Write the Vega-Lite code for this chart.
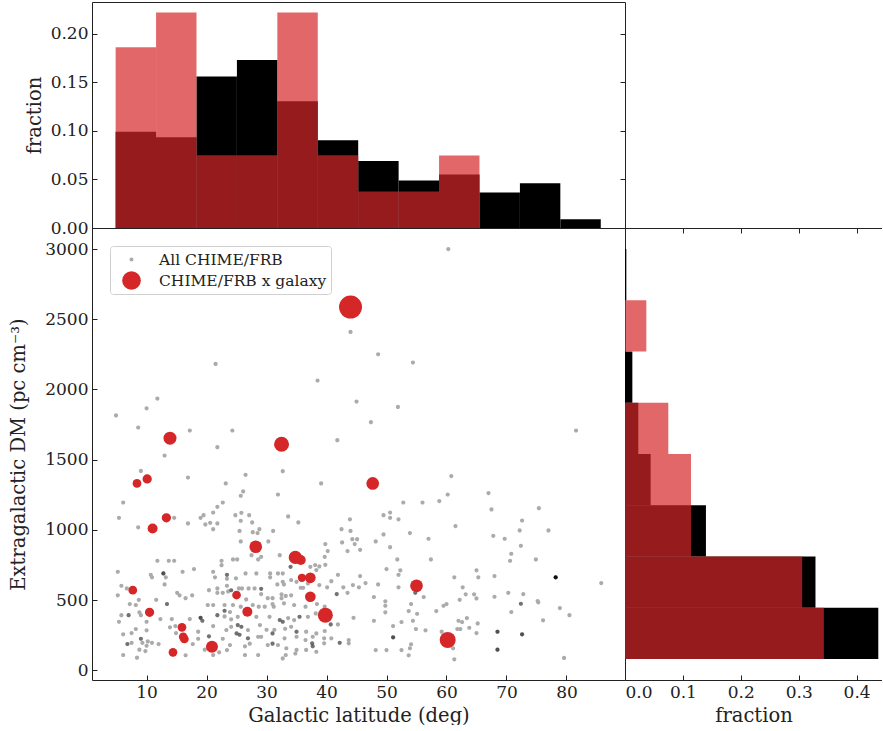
{
  "$schema": "https://vega.github.io/schema/vega-lite/v6.json",
  "background": "white",
  "padding": {"left": 8, "top": 1, "right": 0, "bottom": 0},
  "spacing": 0,
  "bounds": "flush",
  "resolve": {"legend": {"color": "independent", "shape": "independent"}},
  "config": {
    "font": "DejaVu Serif",
    "view": {"stroke": "#222", "strokeWidth": 1},
    "axis": {"labelFont": "DejaVu Serif", "titleFont": "DejaVu Serif", "labelFontSize": 17, "titleFontSize": 19.5, "labelColor": "#222", "titleColor": "#222", "titleFontWeight": "normal", "tickColor": "#222", "domainColor": "#222", "grid": false, "domain": false, "tickSize": -5, "labelPadding": 9},
    "axisX": {"titlePadding": 6},
    "legend": {"orient": "top-left", "offset": 18, "strokeColor": "#d0d0d0", "fillColor": "white", "padding": 4, "cornerRadius": 3, "labelFont": "DejaVu Serif", "labelFontSize": 15.5, "labelColor": "#222", "labelLimit": 400, "symbolSize": 350, "symbolStrokeWidth": 0, "labelOffset": 18, "rowPadding": 3, "symbolOffset": 8}
  },
  "datasets": {
    "lat_hist": [
      {"lo": 4.84, "hi": 11.58, "all": 0.099, "gal": 0.186},
      {"lo": 11.58, "hi": 18.32, "all": 0.0935, "gal": 0.222},
      {"lo": 18.32, "hi": 25.06, "all": 0.156, "gal": 0.075},
      {"lo": 25.06, "hi": 31.8, "all": 0.173, "gal": 0.075},
      {"lo": 31.8, "hi": 38.54, "all": 0.1306, "gal": 0.222},
      {"lo": 38.54, "hi": 45.28, "all": 0.0904, "gal": 0.075},
      {"lo": 45.28, "hi": 52.02, "all": 0.069, "gal": 0.0375},
      {"lo": 52.02, "hi": 58.76, "all": 0.0489, "gal": 0.0375},
      {"lo": 58.76, "hi": 65.5, "all": 0.055, "gal": 0.0746},
      {"lo": 65.5, "hi": 72.24, "all": 0.0365, "gal": 0},
      {"lo": 72.24, "hi": 78.98, "all": 0.046, "gal": 0},
      {"lo": 78.98, "hi": 85.72, "all": 0.009, "gal": 0}
    ],
    "dm_hist": [
      {"lo": 80, "hi": 445, "all": 0.4375, "gal": 0.3435},
      {"lo": 445, "hi": 810, "all": 0.329, "gal": 0.306},
      {"lo": 810, "hi": 1175, "all": 0.1398, "gal": 0.114},
      {"lo": 1175, "hi": 1540, "all": 0.0443, "gal": 0.114},
      {"lo": 1540, "hi": 1905, "all": 0.023, "gal": 0.0748},
      {"lo": 1905, "hi": 2270, "all": 0.0127, "gal": 0},
      {"lo": 2270, "hi": 2635, "all": 0, "gal": 0.0368},
      {"lo": 2635, "hi": 3000, "all": 0.0023, "gal": 0}
    ],
    "gal": [
      {"lat": 44.0, "dm": 2587, "w": 23}, {"lat": 13.9, "dm": 1653, "w": 13}, {"lat": 32.5, "dm": 1610, "w": 15},
      {"lat": 47.7, "dm": 1331, "w": 12.7}, {"lat": 8.4, "dm": 1331, "w": 8.7}, {"lat": 10.1, "dm": 1363, "w": 9.3},
      {"lat": 13.3, "dm": 1086, "w": 9.3}, {"lat": 11.0, "dm": 1010, "w": 10}, {"lat": 28.2, "dm": 880, "w": 12.7},
      {"lat": 34.8, "dm": 804, "w": 13.3}, {"lat": 35.7, "dm": 785, "w": 10}, {"lat": 35.9, "dm": 659, "w": 8.3},
      {"lat": 37.3, "dm": 659, "w": 10.7}, {"lat": 7.7, "dm": 571, "w": 8.7}, {"lat": 55.0, "dm": 602, "w": 12.7},
      {"lat": 37.3, "dm": 524, "w": 10.7}, {"lat": 25.0, "dm": 536, "w": 8.7}, {"lat": 10.5, "dm": 413, "w": 9.3},
      {"lat": 26.8, "dm": 417, "w": 10}, {"lat": 39.8, "dm": 393, "w": 15}, {"lat": 15.9, "dm": 306, "w": 8.7},
      {"lat": 16.1, "dm": 239, "w": 8.7}, {"lat": 16.3, "dm": 223, "w": 8.7}, {"lat": 14.4, "dm": 128, "w": 8.7},
      {"lat": 20.9, "dm": 168, "w": 12}, {"lat": 60.2, "dm": 216, "w": 16}
    ],
    "frb": [
      {"lat": 4.9, "dm": 1815}, {"lat": 8.6, "dm": 1729}, {"lat": 10.0, "dm": 1866}, {"lat": 11.8, "dm": 1935}, {"lat": 17.2, "dm": 1708},
      {"lat": 13.0, "dm": 1530}, {"lat": 21.5, "dm": 2182}, {"lat": 21.8, "dm": 1589}, {"lat": 24.3, "dm": 1708}, {"lat": 38.5, "dm": 2064},
      {"lat": 41.8, "dm": 1639}, {"lat": 44.0, "dm": 2410}, {"lat": 45.0, "dm": 1914}, {"lat": 60.3, "dm": 3000}, {"lat": 48.6, "dm": 2251},
      {"lat": 54.4, "dm": 2192}, {"lat": 51.9, "dm": 1876}, {"lat": 47.4, "dm": 1767}, {"lat": 81.6, "dm": 1708},
      {"lat": 9.05, "dm": 1420}, {"lat": 16.9, "dm": 1373}, {"lat": 23.2, "dm": 1331}, {"lat": 6.1, "dm": 1195}, {"lat": 5.4, "dm": 1086},
      {"lat": 8.6, "dm": 1018}, {"lat": 14.6, "dm": 1086}, {"lat": 16.9, "dm": 1046}, {"lat": 19.0, "dm": 1086}, {"lat": 19.5, "dm": 1105},
      {"lat": 19.8, "dm": 1039}, {"lat": 20.6, "dm": 1050}, {"lat": 21.1, "dm": 1124}, {"lat": 21.1, "dm": 1005}, {"lat": 21.8, "dm": 1164},
      {"lat": 21.8, "dm": 1046}, {"lat": 22.7, "dm": 1195},
      {"lat": 11.8, "dm": 780}, {"lat": 13.7, "dm": 780}, {"lat": 14.6, "dm": 780}, {"lat": 5.2, "dm": 702}, {"lat": 10.7, "dm": 680},
      {"lat": 10.9, "dm": 662}, {"lat": 12.8, "dm": 690, "n": 3}, {"lat": 13.2, "dm": 662}, {"lat": 16.0, "dm": 702}, {"lat": 17.9, "dm": 721},
      {"lat": 5.8, "dm": 602}, {"lat": 6.7, "dm": 583}, {"lat": 13.0, "dm": 612}, {"lat": 5.2, "dm": 534}, {"lat": 7.2, "dm": 472},
      {"lat": 8.2, "dm": 465}, {"lat": 8.7, "dm": 502}, {"lat": 11.6, "dm": 502}, {"lat": 13.4, "dm": 472, "n": 2}, {"lat": 15.1, "dm": 552},
      {"lat": 15.5, "dm": 534}, {"lat": 16.5, "dm": 514}, {"lat": 17.6, "dm": 534}, {"lat": 5.8, "dm": 393}, {"lat": 7.0, "dm": 393, "n": 2},
      {"lat": 8.8, "dm": 413}, {"lat": 9.05, "dm": 393}, {"lat": 12.3, "dm": 365}, {"lat": 10.0, "dm": 346}, {"lat": 5.4, "dm": 346},
      {"lat": 14.2, "dm": 365}, {"lat": 17.2, "dm": 365}, {"lat": 19.0, "dm": 374, "n": 3}, {"lat": 19.3, "dm": 353, "n": 2}, {"lat": 14.8, "dm": 315},
      {"lat": 13.9, "dm": 306}, {"lat": 8.2, "dm": 294}, {"lat": 10.0, "dm": 285}, {"lat": 6.1, "dm": 256}, {"lat": 7.5, "dm": 265},
      {"lat": 18.6, "dm": 275}, {"lat": 21.1, "dm": 315}, {"lat": 21.8, "dm": 393, "n": 2}, {"lat": 23.0, "dm": 384}, {"lat": 23.0, "dm": 465},
      {"lat": 21.1, "dm": 465}, {"lat": 20.2, "dm": 465}, {"lat": 20.4, "dm": 571}, {"lat": 21.8, "dm": 583}, {"lat": 21.8, "dm": 552},
      {"lat": 22.7, "dm": 552}, {"lat": 23.0, "dm": 424, "n": 2}, {"lat": 23.4, "dm": 602}, {"lat": 22.5, "dm": 749}, {"lat": 22.5, "dm": 780},
      {"lat": 23.4, "dm": 680, "n": 2}, {"lat": 23.4, "dm": 652}, {"lat": 21.1, "dm": 702}, {"lat": 21.4, "dm": 662}, {"lat": 6.8, "dm": 187, "n": 2},
      {"lat": 7.5, "dm": 196}, {"lat": 9.3, "dm": 196}, {"lat": 10.0, "dm": 175}, {"lat": 10.9, "dm": 196}, {"lat": 12.0, "dm": 187},
      {"lat": 9.05, "dm": 225, "n": 2}, {"lat": 10.2, "dm": 206}, {"lat": 8.8, "dm": 147}, {"lat": 9.8, "dm": 137}, {"lat": 6.1, "dm": 109},
      {"lat": 8.4, "dm": 90}, {"lat": 16.5, "dm": 107}, {"lat": 17.7, "dm": 187}, {"lat": 18.6, "dm": 225}, {"lat": 20.4, "dm": 242, "n": 2},
      {"lat": 19.7, "dm": 147}, {"lat": 21.1, "dm": 109}, {"lat": 22.1, "dm": 128}, {"lat": 21.1, "dm": 187}, {"lat": 22.7, "dm": 225},
      {"lat": 23.4, "dm": 144}, {"lat": 14.9, "dm": 265},
      {"lat": 26.5, "dm": 1392}, {"lat": 32.7, "dm": 1418}, {"lat": 39.1, "dm": 1331}, {"lat": 26.1, "dm": 1274}, {"lat": 25.7, "dm": 1243},
      {"lat": 31.9, "dm": 1252}, {"lat": 24.8, "dm": 1105}, {"lat": 25.8, "dm": 1122}, {"lat": 27.1, "dm": 1105}, {"lat": 25.7, "dm": 1065},
      {"lat": 27.6, "dm": 1053}, {"lat": 33.6, "dm": 1096}, {"lat": 35.3, "dm": 1053}, {"lat": 43.9, "dm": 1075}, {"lat": 25.5, "dm": 993},
      {"lat": 27.7, "dm": 984}, {"lat": 28.5, "dm": 977}, {"lat": 28.8, "dm": 1005}, {"lat": 31.1, "dm": 993}, {"lat": 25.7, "dm": 918},
      {"lat": 30.3, "dm": 918}, {"lat": 42.5, "dm": 1005}, {"lat": 44.0, "dm": 993}, {"lat": 42.6, "dm": 911}, {"lat": 44.3, "dm": 934},
      {"lat": 45.1, "dm": 934}, {"lat": 44.7, "dm": 899}, {"lat": 43.5, "dm": 849}, {"lat": 39.8, "dm": 899}, {"lat": 40.2, "dm": 849},
      {"lat": 39.7, "dm": 808}, {"lat": 24.4, "dm": 790}, {"lat": 25.1, "dm": 790}, {"lat": 27.5, "dm": 820}, {"lat": 28.6, "dm": 790},
      {"lat": 29.1, "dm": 808}, {"lat": 32.2, "dm": 820}, {"lat": 34.0, "dm": 737, "n": 2}, {"lat": 37.3, "dm": 737}, {"lat": 38.1, "dm": 750},
      {"lat": 38.8, "dm": 740}, {"lat": 39.8, "dm": 751}, {"lat": 38.3, "dm": 714}, {"lat": 24.9, "dm": 655}, {"lat": 26.5, "dm": 690},
      {"lat": 28.3, "dm": 690}, {"lat": 30.6, "dm": 690}, {"lat": 30.6, "dm": 662}, {"lat": 31.9, "dm": 690}, {"lat": 32.7, "dm": 690},
      {"lat": 32.7, "dm": 630}, {"lat": 31.8, "dm": 612}, {"lat": 32.9, "dm": 612}, {"lat": 34.1, "dm": 643}, {"lat": 35.0, "dm": 630},
      {"lat": 35.7, "dm": 588}, {"lat": 36.1, "dm": 588}, {"lat": 36.9, "dm": 619}, {"lat": 38.8, "dm": 607}, {"lat": 40.8, "dm": 635},
      {"lat": 41.9, "dm": 680}, {"lat": 40.1, "dm": 591}, {"lat": 42.8, "dm": 591}, {"lat": 43.5, "dm": 552}, {"lat": 41.7, "dm": 543, "n": 2},
      {"lat": 44.4, "dm": 607}, {"lat": 23.6, "dm": 562}, {"lat": 25.4, "dm": 583}, {"lat": 25.9, "dm": 583}, {"lat": 27.0, "dm": 583},
      {"lat": 24.1, "dm": 570, "n": 2}, {"lat": 28.0, "dm": 583}, {"lat": 29.1, "dm": 580, "n": 2}, {"lat": 29.1, "dm": 543}, {"lat": 30.2, "dm": 514},
      {"lat": 31.0, "dm": 514}, {"lat": 32.5, "dm": 541}, {"lat": 32.5, "dm": 514}, {"lat": 33.2, "dm": 530}, {"lat": 34.1, "dm": 534},
      {"lat": 26.6, "dm": 505}, {"lat": 24.4, "dm": 465}, {"lat": 25.7, "dm": 453}, {"lat": 27.7, "dm": 465}, {"lat": 28.7, "dm": 453},
      {"lat": 29.7, "dm": 453}, {"lat": 31.0, "dm": 472}, {"lat": 31.2, "dm": 453}, {"lat": 32.9, "dm": 477}, {"lat": 34.6, "dm": 465},
      {"lat": 36.5, "dm": 453}, {"lat": 38.4, "dm": 472}, {"lat": 39.7, "dm": 453}, {"lat": 23.9, "dm": 415}, {"lat": 25.2, "dm": 381},
      {"lat": 24.1, "dm": 363}, {"lat": 28.3, "dm": 381}, {"lat": 30.5, "dm": 381}, {"lat": 32.2, "dm": 358, "n": 2}, {"lat": 32.7, "dm": 346, "n": 2},
      {"lat": 33.6, "dm": 372}, {"lat": 34.6, "dm": 358}, {"lat": 35.5, "dm": 381, "n": 2}, {"lat": 36.9, "dm": 381}, {"lat": 38.2, "dm": 405},
      {"lat": 41.9, "dm": 327}, {"lat": 40.7, "dm": 327, "n": 2}, {"lat": 44.5, "dm": 374}, {"lat": 24.1, "dm": 310}, {"lat": 25.2, "dm": 322, "n": 2},
      {"lat": 25.8, "dm": 310, "n": 2}, {"lat": 23.3, "dm": 287}, {"lat": 25.0, "dm": 263, "n": 2}, {"lat": 25.5, "dm": 253, "n": 2}, {"lat": 26.9, "dm": 287},
      {"lat": 28.9, "dm": 322}, {"lat": 30.0, "dm": 289}, {"lat": 31.3, "dm": 289}, {"lat": 33.1, "dm": 296}, {"lat": 34.1, "dm": 310},
      {"lat": 35.0, "dm": 275, "n": 2}, {"lat": 36.6, "dm": 275}, {"lat": 38.3, "dm": 263}, {"lat": 39.7, "dm": 280}, {"lat": 40.8, "dm": 228},
      {"lat": 39.6, "dm": 228}, {"lat": 37.7, "dm": 239}, {"lat": 36.5, "dm": 216}, {"lat": 35.0, "dm": 239}, {"lat": 33.0, "dm": 228},
      {"lat": 31.0, "dm": 263, "n": 2}, {"lat": 29.1, "dm": 239}, {"lat": 28.6, "dm": 239}, {"lat": 26.9, "dm": 228, "n": 2}, {"lat": 23.9, "dm": 180},
      {"lat": 26.4, "dm": 171}, {"lat": 27.2, "dm": 190}, {"lat": 30.2, "dm": 180}, {"lat": 31.0, "dm": 190, "n": 2}, {"lat": 31.9, "dm": 180},
      {"lat": 33.3, "dm": 157}, {"lat": 35.0, "dm": 145}, {"lat": 37.6, "dm": 192, "n": 2}, {"lat": 37.7, "dm": 171, "n": 2}, {"lat": 36.6, "dm": 145},
      {"lat": 38.3, "dm": 132}, {"lat": 34.8, "dm": 120}, {"lat": 28.6, "dm": 109}, {"lat": 26.4, "dm": 109}, {"lat": 32.7, "dm": 85},
      {"lat": 33.2, "dm": 109}, {"lat": 42.2, "dm": 196, "n": 2}, {"lat": 43.7, "dm": 216}, {"lat": 43.7, "dm": 192}, {"lat": 39.6, "dm": 192},
      {"lat": 60.8, "dm": 1383}, {"lat": 67.0, "dm": 1262}, {"lat": 60.2, "dm": 1252}, {"lat": 58.8, "dm": 1205}, {"lat": 56.0, "dm": 1195},
      {"lat": 52.8, "dm": 1195}, {"lat": 49.5, "dm": 1105}, {"lat": 50.6, "dm": 1124}, {"lat": 50.6, "dm": 1086}, {"lat": 52.0, "dm": 1075},
      {"lat": 61.5, "dm": 1027}, {"lat": 49.5, "dm": 968}, {"lat": 53.9, "dm": 977}, {"lat": 57.0, "dm": 937}, {"lat": 48.2, "dm": 918},
      {"lat": 45.6, "dm": 858}, {"lat": 50.6, "dm": 877}, {"lat": 51.8, "dm": 790}, {"lat": 57.4, "dm": 790}, {"lat": 50.0, "dm": 721},
      {"lat": 52.3, "dm": 712}, {"lat": 52.0, "dm": 680}, {"lat": 45.6, "dm": 671}, {"lat": 46.5, "dm": 621}, {"lat": 45.4, "dm": 591},
      {"lat": 48.6, "dm": 612}, {"lat": 52.0, "dm": 591}, {"lat": 61.3, "dm": 662}, {"lat": 65.0, "dm": 712}, {"lat": 65.3, "dm": 662},
      {"lat": 62.7, "dm": 591}, {"lat": 63.2, "dm": 541}, {"lat": 64.6, "dm": 541}, {"lat": 65.0, "dm": 512}, {"lat": 62.2, "dm": 502},
      {"lat": 47.9, "dm": 522}, {"lat": 49.8, "dm": 491}, {"lat": 49.8, "dm": 460}, {"lat": 56.2, "dm": 522}, {"lat": 54.8, "dm": 552, "n": 2},
      {"lat": 54.1, "dm": 472}, {"lat": 60.0, "dm": 472}, {"lat": 59.5, "dm": 460}, {"lat": 49.8, "dm": 413}, {"lat": 53.7, "dm": 422},
      {"lat": 55.1, "dm": 403}, {"lat": 58.3, "dm": 422}, {"lat": 47.9, "dm": 353}, {"lat": 52.5, "dm": 344}, {"lat": 54.4, "dm": 353},
      {"lat": 63.4, "dm": 372}, {"lat": 62.0, "dm": 353}, {"lat": 62.6, "dm": 344}, {"lat": 65.2, "dm": 334}, {"lat": 51.1, "dm": 315},
      {"lat": 54.9, "dm": 294}, {"lat": 56.5, "dm": 285}, {"lat": 61.8, "dm": 294}, {"lat": 62.3, "dm": 294}, {"lat": 63.8, "dm": 303},
      {"lat": 65.0, "dm": 265}, {"lat": 51.1, "dm": 235, "n": 3}, {"lat": 54.1, "dm": 185}, {"lat": 53.9, "dm": 157}, {"lat": 48.2, "dm": 144},
      {"lat": 50.0, "dm": 144}, {"lat": 52.5, "dm": 144}, {"lat": 53.7, "dm": 107}, {"lat": 61.1, "dm": 157}, {"lat": 61.3, "dm": 78},
      {"lat": 59.2, "dm": 275},
      {"lat": 67.5, "dm": 1146}, {"lat": 75.4, "dm": 1155}, {"lat": 72.6, "dm": 1067}, {"lat": 72.2, "dm": 996}, {"lat": 77.0, "dm": 996},
      {"lat": 67.8, "dm": 958}, {"lat": 69.7, "dm": 937}, {"lat": 72.4, "dm": 887}, {"lat": 70.8, "dm": 830}, {"lat": 70.6, "dm": 780},
      {"lat": 74.9, "dm": 790}, {"lat": 68.0, "dm": 671}, {"lat": 78.2, "dm": 662, "n": 12}, {"lat": 85.8, "dm": 621}, {"lat": 68.0, "dm": 524},
      {"lat": 70.3, "dm": 552}, {"lat": 72.8, "dm": 543}, {"lat": 72.4, "dm": 474, "n": 2}, {"lat": 75.2, "dm": 493}, {"lat": 75.3, "dm": 484},
      {"lat": 70.8, "dm": 415}, {"lat": 78.9, "dm": 443}, {"lat": 80.5, "dm": 393}, {"lat": 76.1, "dm": 356}, {"lat": 68.5, "dm": 275, "n": 3},
      {"lat": 72.6, "dm": 256, "n": 3}, {"lat": 68.5, "dm": 147, "n": 3}, {"lat": 79.6, "dm": 88}
    ]
  },
  "vconcat": [
    {
      "width": 533,
      "height": 226,
      "layer": [
        {
          "data": {"name": "lat_hist"},
          "mark": {"type": "rect", "color": "black"},
          "encoding": {
            "x": {"field": "lo", "type": "quantitative", "scale": {"domain": [0.9, 89.76], "nice": false, "zero": false}, "axis": {"values": [10, 20, 30, 40, 50, 60, 70, 80], "labels": false, "title": null, "tickSize": 5}},
            "x2": {"field": "hi"},
            "y": {"field": "all", "type": "quantitative", "scale": {"domain": [0, 0.2327], "nice": false}, "axis": {"values": [0, 0.05, 0.1, 0.15, 0.2], "format": ".2f", "title": "fraction", "titlePadding": 6}},
            "y2": {"datum": 0}
          }
        },
        {
          "data": {"name": "lat_hist"},
          "mark": {"type": "rect", "color": "#d62728", "opacity": 0.7},
          "encoding": {
            "x": {"field": "lo", "type": "quantitative", "scale": {"domain": [0.9, 89.76], "nice": false, "zero": false}, "axis": null},
            "x2": {"field": "hi"},
            "y": {"field": "gal", "type": "quantitative", "scale": {"domain": [0, 0.2327], "nice": false}, "axis": {"orient": "right", "values": [0, 0.05, 0.1, 0.15, 0.2], "labels": false, "title": null}},
            "y2": {"datum": 0}
          }
        }
      ],
      "resolve": {"scale": {"y": "independent"}, "axis": {"y": "independent"}}
    },
    {
      "spacing": 0,
      "bounds": "flush",
      "resolve": {"legend": {"color": "independent", "shape": "independent"}},
      "hconcat": [
        {
          "width": 533,
          "height": 452,
          "layer": [
            {
              "data": {"name": "frb"},
              "mark": {"type": "point", "filled": true, "size": 380, "opacity": 1},
              "encoding": {
                "x": {"field": "lat", "type": "quantitative", "scale": {"domain": [0.9, 89.76], "nice": false, "zero": false}, "axis": {"values": [10, 20, 30, 40, 50, 60, 70, 80], "title": "Galactic latitude (deg)"}},
                "y": {"field": "dm", "type": "quantitative", "scale": {"domain": [-69, 3150], "nice": false, "zero": false}, "axis": {"values": [0, 500, 1000, 1500, 2000, 2500, 3000], "format": "d", "title": "Extragalactic DM (pc cm⁻³)", "titlePadding": 16}},
                "color": {"datum": "All CHIME/FRB", "type": "nominal", "scale": {"domain": ["All CHIME/FRB", "CHIME/FRB x galaxy"], "range": ["#ababab", "#d62728"]}, "legend": {"title": null}},
                "shape": {"datum": "All CHIME/FRB", "type": "nominal", "scale": {"domain": ["All CHIME/FRB", "CHIME/FRB x galaxy"], "range": ["M-0.214,0A0.214,0.214,0,1,0,0.214,0A0.214,0.214,0,1,0,-0.214,0Z", "circle"]}, "legend": {"title": null}}
              }
            },
            {
              "data": {"name": "frb"},
              "transform": [{"filter": "datum.n > 1"}],
              "mark": {"type": "circle", "size": 17, "color": "black"},
              "encoding": {
                "x": {"field": "lat", "type": "quantitative"},
                "y": {"field": "dm", "type": "quantitative"},
                "opacity": {"field": "n", "type": "quantitative", "scale": {"domain": [2, 3, 12], "range": [0.33, 0.53, 0.9]}, "legend": null}
              }
            },
            {
              "data": {"name": "gal"},
              "mark": {"type": "point", "filled": true, "opacity": 1},
              "encoding": {
                "x": {"field": "lat", "type": "quantitative"},
                "y": {"field": "dm", "type": "quantitative"},
                "color": {"datum": "CHIME/FRB x galaxy", "type": "nominal"},
                "shape": {"datum": "CHIME/FRB x galaxy", "type": "nominal"},
                "size": {"field": "w", "type": "quantitative", "scale": {"type": "pow", "exponent": 2, "domain": [0, 23], "range": [0, 529]}, "legend": null}
              }
            }
          ]
        },
        {
          "width": 257,
          "height": 452,
          "view": {"stroke": null},
          "layer": [
            {
              "data": {"name": "dm_hist"},
              "mark": {"type": "rect", "color": "black"},
              "encoding": {
                "y": {"field": "lo", "type": "quantitative", "scale": {"domain": [-69, 3150], "nice": false, "zero": false}, "axis": {"values": [0, 500, 1000, 1500, 2000, 2500, 3000], "labels": false, "title": null, "tickSize": 5, "domain": true}},
                "y2": {"field": "hi"},
                "x": {"field": "all", "type": "quantitative", "scale": {"domain": [0, 0.4439], "nice": false}, "axis": {"values": [0, 0.1, 0.2, 0.3, 0.4], "format": ".1f", "title": "fraction", "domain": true}},
                "x2": {"datum": 0}
              }
            },
            {
              "data": {"name": "dm_hist"},
              "mark": {"type": "rect", "color": "#d62728", "opacity": 0.7},
              "encoding": {
                "y": {"field": "lo", "type": "quantitative", "scale": {"domain": [-69, 3150], "nice": false, "zero": false}, "axis": null},
                "y2": {"field": "hi"},
                "x": {"field": "gal", "type": "quantitative", "scale": {"domain": [0, 0.4439], "nice": false}, "axis": {"orient": "top", "values": [0, 0.1, 0.2, 0.3, 0.4], "labels": false, "title": null, "domain": true}},
                "x2": {"datum": 0}
              }
            }
          ],
          "resolve": {"scale": {"x": "independent"}, "axis": {"x": "independent"}}
        }
      ]
    }
  ]
}
